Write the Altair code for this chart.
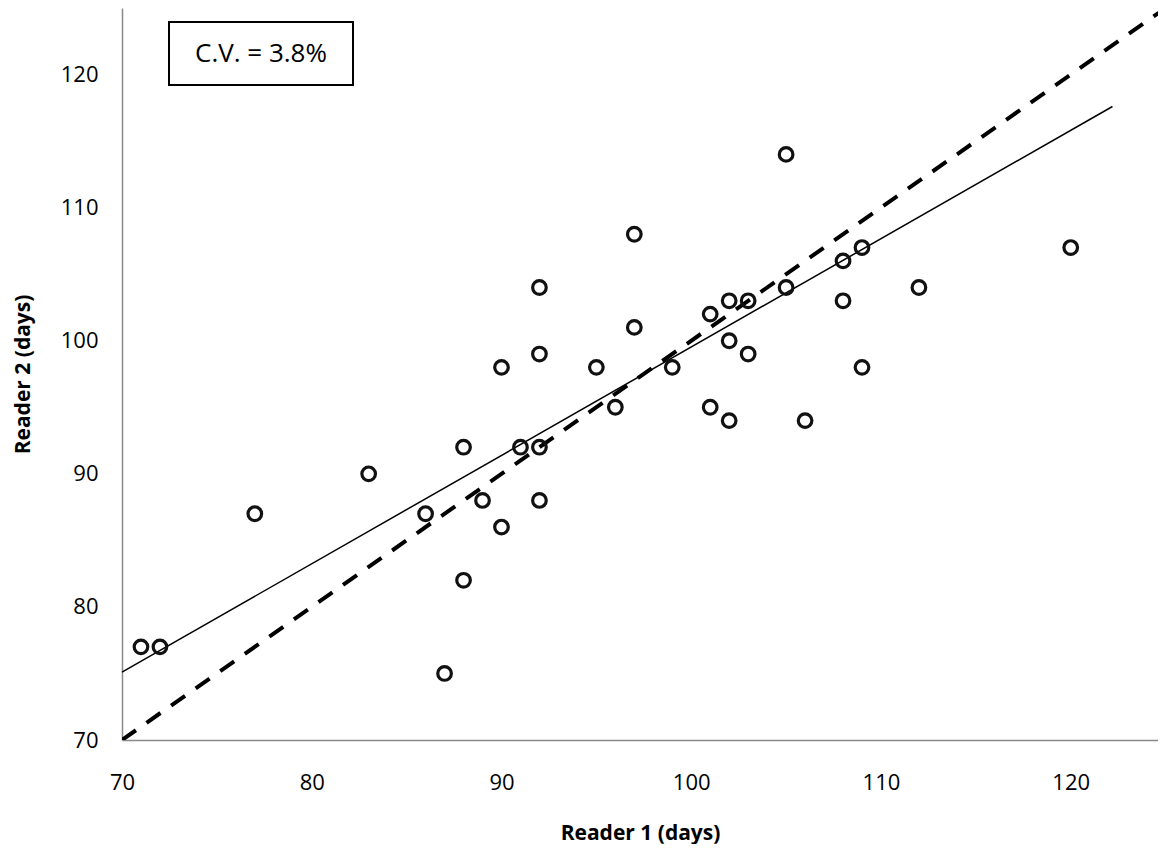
import altair as alt
import pandas as pd

# Data
reader1 = [71, 72, 77, 83, 86, 87, 88, 88, 89, 90,
           90, 91, 92, 92, 92, 92, 95, 96, 97, 97,
           99, 101, 101, 102, 102, 102, 103, 103, 105, 105,
           106, 108, 108, 109, 109, 112, 120]
reader2 = [77, 77, 87, 90, 87, 75, 82, 92, 88, 86,
           98, 92, 92, 88, 99, 104, 98, 95, 101, 108,
           98, 102, 95, 103, 100, 94, 103, 99, 114, 104,
           94, 106, 103, 107, 98, 104, 107]

# Fitted line endpoints
trend_x = [70, 122.2]
trend_y = [75.1, 117.6]

# Line of identity
identity_vals = [70, 125]

cv_label = ["C.V. = 3.8%"]
tick_values = [70, 80, 90, 100, 110, 120]

pts = pd.DataFrame({"r1": reader1, "r2": reader2})
trend = pd.DataFrame({"r1": trend_x, "r2": trend_y})
ident = pd.DataFrame({"r1": identity_vals, "r2": identity_vals})
note = pd.DataFrame({"label": cv_label})

FONT = "Open Sans"

xscale = alt.Scale(domain=[70, 124.6], nice=False, zero=False)
yscale = alt.Scale(domain=[70, 125], nice=False, zero=False)

xax = alt.Axis(
    title="Reader 1 (days)", values=tick_values, grid=False, ticks=False, tickSize=0,
    domainColor="#898989", domainWidth=1.5, labelFlush=False,
    labelFont=FONT, labelFontSize=22, labelColor="black", labelPadding=32,
    titleFont=FONT, titleFontSize=21, titleFontWeight="bold", titleColor="black",
    titleY=93, titleBaseline="middle",
)
yax = alt.Axis(
    title="Reader 2 (days)", values=tick_values, grid=False, ticks=False, tickSize=0,
    domainColor="#898989", domainWidth=1.5, labelFlush=False,
    labelFont=FONT, labelFontSize=22, labelColor="black", labelPadding=24,
    titleFont=FONT, titleFontSize=21, titleFontWeight="bold", titleColor="black",
    titleX=-99, titleBaseline="middle",
)

ident_line = alt.Chart(ident).mark_line(
    color="black", strokeWidth=4, strokeDash=[17, 13], clip=True
).encode(
    x=alt.X("r1:Q", scale=xscale, axis=xax),
    y=alt.Y("r2:Q", scale=yscale, axis=yax),
)

trend_line = alt.Chart(trend).mark_line(color="black", strokeWidth=1.5).encode(
    x=alt.X("r1:Q", scale=xscale),
    y=alt.Y("r2:Q", scale=yscale),
)

points = alt.Chart(pts).mark_point(
    shape="circle", filled=False, color="#111111", strokeWidth=3.2, size=185, opacity=1
).encode(
    x=alt.X("r1:Q", scale=xscale),
    y=alt.Y("r2:Q", scale=yscale),
)

box = alt.Chart(note).mark_rect(fill="white", stroke="black", strokeWidth=2).encode(
    x=alt.value(47), x2=alt.value(231), y=alt.value(14), y2=alt.value(77)
)

txt = alt.Chart(note).mark_text(
    font=FONT, fontSize=26, color="black", align="center", baseline="middle"
).encode(
    x=alt.value(139), y=alt.value(46), text="label:N"
)

chart = alt.layer(ident_line, trend_line, points, box, txt).properties(
    width=1036, height=732,
    autosize=alt.AutoSizeParams(type="none"),
    padding={"left": 114, "top": 0, "right": 0, "bottom": 104},
).configure_view(stroke=None)

chart.save("out.html", embed_options={"renderer": "svg", "actions": False})
